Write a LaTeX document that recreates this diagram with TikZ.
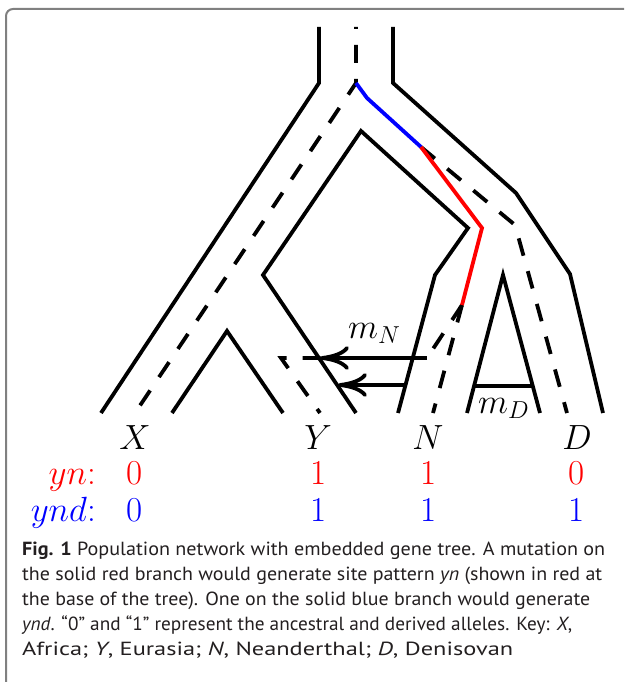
\RequirePackage{fix-cm}
\documentclass[tikz,border=0pt]{standalone}
\usepackage{fontspec}
\usetikzlibrary{arrows.meta}
\newfontfamily\capfont{PT Sans}
\definecolor{framegray}{RGB}{128,128,128}
\definecolor{captextcol}{RGB}{35,31,32}
\begin{document}
\begin{tikzpicture}[x=1pt,y=-1pt,
  pop/.style={line width=3.8pt},
  gene/.style={line width=3.8pt, dash pattern=on 18pt off 16pt},
  mig/.style={line width=3.8pt,-{Computer Modern Rightarrow[length=29pt,width=24pt]}},
  lab/.style={inner sep=0pt, anchor=base, font=\fontsize{35}{42}\selectfont},
  rowlab/.style={inner sep=0pt, anchor=base east, font=\fontsize{35}{42}\selectfont},
  captext/.style={inner sep=0pt, anchor=base west, text=captextcol, font=\capfont\fontsize{19}{25}\selectfont}]
\useasboundingbox (0,0) rectangle (624,682);
\clip (0,0) rectangle (624,682);
\fill[white] (0,0) rectangle (624,682);
\draw[line width=2pt, framegray, rounded corners=7pt] (6,9) rectangle (680,740);

% population network
\coordinate (lt) at (319,27);  \coordinate (lb) at (319,83);  \coordinate (xo) at (101,413);
\coordinate (rt) at (393,27);  \coordinate (rb) at (393,83);
\coordinate (r1) at (516,193); \coordinate (r2) at (570,274); \coordinate (do) at (603,413);
\coordinate (yo) at (356,413); \coordinate (pk) at (263,275); \coordinate (pa) at (361,131);
\coordinate (pr) at (468,228); \coordinate (pn) at (435,275); \coordinate (no) at (398,413);
\coordinate (xi) at (172,413); \coordinate (xa) at (227,331); \coordinate (yi) at (283,413);
\coordinate (ni) at (467,413); \coordinate (da) at (503,275); \coordinate (di) at (540,413);
\coordinate (mdl) at (474,386); \coordinate (mdr) at (533,386);

\draw[pop] (lt) -- (lb) -- (xo);
\draw[pop] (rt) -- (rb) -- (r1) -- (r2) -- (do);
\draw[pop] (yo) -- (pk) -- (pa) -- (pr) -- (pn) -- (no);
\draw[pop] (xi) -- (xa) -- (yi);
\draw[pop] (ni) -- (da) -- (di);
\draw[pop] (mdl) -- (mdr);

% gene tree
\coordinate (gt) at (356,27);  \coordinate (gr) at (356,83);  \coordinate (gx) at (135,413);
\coordinate (gb) at (367,98);  \coordinate (gd) at (421,147);
\coordinate (gk) at (515,225); \coordinate (gdd) at (567,413);
\coordinate (gre) at (482,228); \coordinate (gyn) at (462,305);
\coordinate (gm) at (427,358); \coordinate (gyl) at (281,358); \coordinate (gy) at (320,413);
\coordinate (gn) at (433,413);
\coordinate (a1) at (320,358);
\coordinate (a2s) at (406,385); \coordinate (a2) at (338,385);

\draw[gene, dash phase=16pt] (gt) -- (gr) -- (gx);
\draw[gene] (gd) -- (gk) -- (gdd);
\draw[gene] (gyn) -- (gm) -- (gyl) -- (gy);
\draw[gene] (gyn) -- (gn);
\draw[line width=3.8pt, blue] (gr) -- (gb) -- (gd);
\draw[line width=3.8pt, red] (gd) -- (gre) -- (gyn);

% migration arrows
\draw[mig] (gm) -- (a1);
\draw[mig] (a2s) -- (a2);
\node[inner sep=0pt, anchor=base west, font=\fontsize{35}{42}\selectfont] (mN) at (348,338) {$m_N$};
\node[inner sep=0pt, anchor=base west, font=\fontsize{35}{42}\selectfont] (mD) at (478,413) {$m_D$};

% tip labels
\node[lab] (X) at (135,449) {$X$};
\node[lab] (Y) at (318,449) {$Y$};
\node[lab] (N) at (428,449) {$N$};
\node[lab] (D) at (577,449) {$D$};

\node[rowlab, red] (yn) at (96,484) {$yn$:};
\node[lab, red] (yn1) at (135,484) {0};
\node[lab, red] (yn2) at (319,484) {1};
\node[lab, red] (yn3) at (429,484) {1};
\node[lab, red] (yn4) at (577,484) {0};

\node[rowlab, blue] (ynd) at (96,521) {$ynd$:};
\node[lab, blue] (ynd1) at (135,521) {0};
\node[lab, blue] (ynd2) at (319,521) {1};
\node[lab, blue] (ynd3) at (429,521) {1};
\node[lab, blue] (ynd4) at (577,521) {1};

% caption
\node[captext] (c1) at (22,555) {\resizebox{583pt}{\height}{\textbf{Fig. 1} Population network with embedded gene tree. A mutation on}};
\node[captext] (c2) at (22,580) {\resizebox{580pt}{\height}{the solid red branch would generate site pattern \textit{yn} (shown in red at}};
\node[captext] (c3) at (22,605) {\resizebox{568pt}{\height}{the base of the tree). One on the solid blue branch would generate}};
\node[captext] (c4) at (22,630) {\resizebox{550pt}{\height}{\textit{ynd}. “0” and “1” represent the ancestral and derived alleles. Key: \textit{X},}};
\node[captext] (c5) at (22,655) {\resizebox{491pt}{\height}{Africa; \textit{Y}, Eurasia; \textit{N}, Neanderthal; \textit{D}, Denisovan}};
\end{tikzpicture}
\end{document}
